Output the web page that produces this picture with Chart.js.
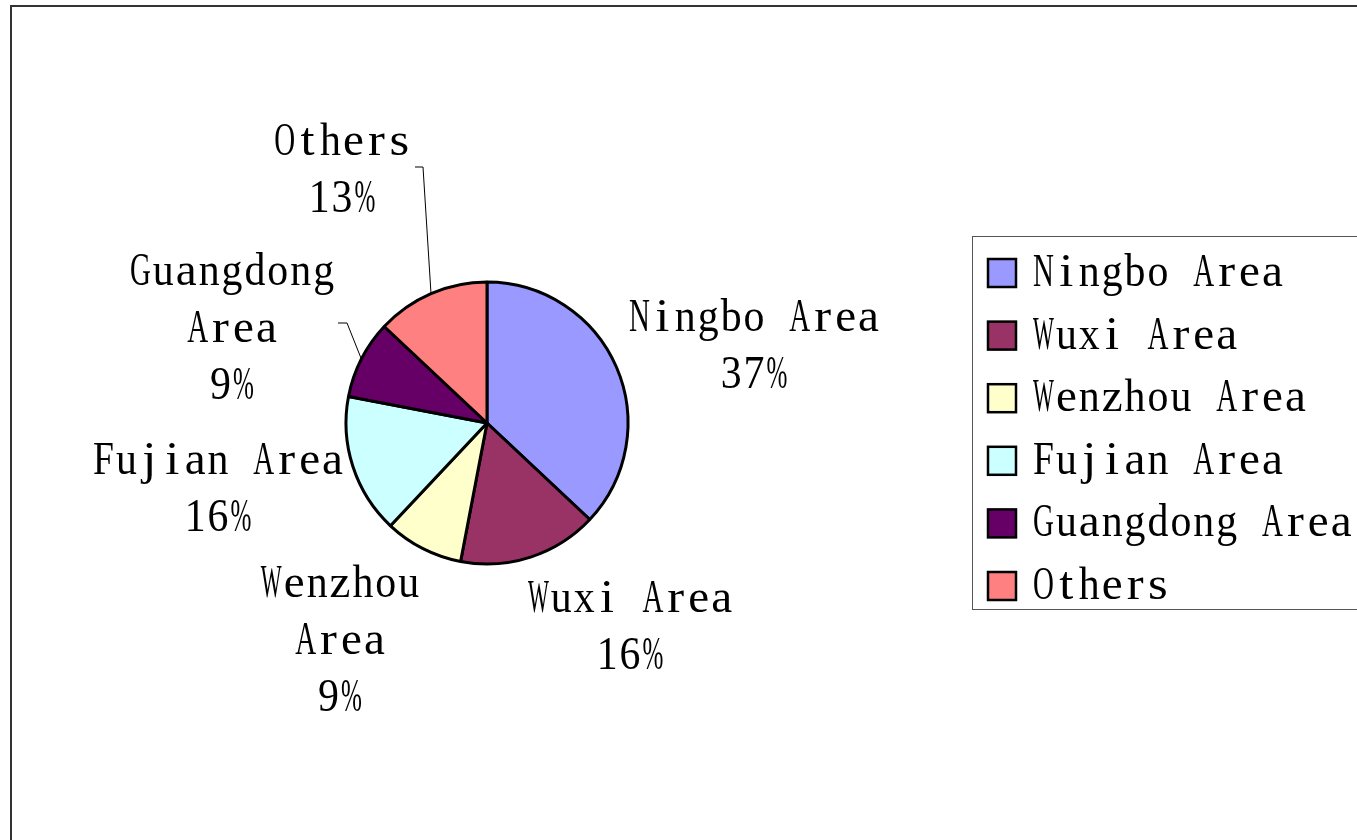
<!DOCTYPE html>
<html>
<head>
<meta charset="utf-8">
<title>Area share pie</title>
<script src="https://cdn.jsdelivr.net/npm/chart.js@4.4.1/dist/chart.umd.min.js"></script>
<style>
  html, body { margin: 0; padding: 0; background: #ffffff; overflow: hidden; }
  canvas { display: block; }
</style>
</head>
<body>
<canvas id="pie" width="1357" height="840"></canvas>
<script>
// ====== datos ======
const categories = ['Ningbo Area', 'Wuxi Area', 'Wenzhou Area', 'Fujian Area', 'Guangdong Area', 'Others'];
const shares = [37, 16, 9, 16, 9, 13];
const colors = ['#9999FF', '#993366', '#FFFFCC', '#CCFFFF', '#660066', '#FF8080'];

// ====== estilo de etiquetas ======
// label block centre, relative to the pie centre
const labelOffsets = [[267, -76], [143, 205], [-147, 219], [-269, 67], [-255, -93], [-145, -252]];
const wrapLabel = [false, false, true, false, true, false];
// leader lines: [elbow, end] relative to pie centre, null = none
const leaders = [null, null, null, null, [[-140, -100], [-149, -100]], [[-64, -256], [-72, -256]]];

const FONT = '46px "Liberation Serif", serif';
const ADV = 22.9;      // fixed advance per char, like the original half-width font
const LINE_H = 57;

// serif glyphs placed in fixed cells (monospaced look)
function texto(ctx, t, x, y, align) {
    const w = t.length * ADV;
    const x0 = align === 'left' ? x : x - w / 2;
    ctx.save();
    ctx.font = FONT;
    ctx.textAlign = 'center';
    ctx.textBaseline = 'middle';
    for (let k = 0; k < t.length; k++) {
        const ch = t[k];
        if (ch === ' ') continue;
        const gw = ctx.measureText(ch).width;
        const sx = Math.min(1.1, (ADV - 2) / gw);
        ctx.save();
        ctx.translate(x0 + (k + 0.5) * ADV, y);
        ctx.scale(sx, 1);
        ctx.fillText(ch, 0, 0);
        ctx.restore();
    }
    ctx.restore();
}

const extras = {
    id: 'extras',
    beforeDraw(chart) {
        const ctx = chart.ctx;
        ctx.save();
        ctx.fillStyle = '#ffffff';
        ctx.fillRect(0, 0, chart.width, chart.height);
        ctx.restore();
    },
    afterDraw(chart) {
        const ctx = chart.ctx;
        const meta = chart.getDatasetMeta(0);
        const total = shares.reduce((a, b) => a + b, 0);
        ctx.save();

        // outer frame
        ctx.strokeStyle = '#333333';
        ctx.lineWidth = 2;
        ctx.strokeRect(11, 6, 1500, 1000);

        ctx.fillStyle = '#000000';

        meta.data.forEach((arc, i) => {
            const p = arc.getProps(['x', 'y', 'startAngle', 'endAngle', 'outerRadius'], true);
            const cx = p.x, cy = p.y;
            const mid = (p.startAngle + p.endAngle) / 2;

            // leader line
            if (leaders[i]) {
                const sx = cx + Math.cos(mid) * p.outerRadius;
                const sy = cy + Math.sin(mid) * p.outerRadius;
                ctx.strokeStyle = '#000000';
                ctx.lineWidth = 1;
                ctx.beginPath();
                ctx.moveTo(sx, sy);
                ctx.lineTo(cx + leaders[i][0][0], cy + leaders[i][0][1]);
                ctx.lineTo(cx + leaders[i][1][0], cy + leaders[i][1][1]);
                ctx.stroke();
            }

            // label text
            const pct = Math.round(shares[i] / total * 100) + '%';
            let lines;
            if (wrapLabel[i]) {
                lines = categories[i].split(' ').concat([pct]);
            } else {
                lines = [categories[i], pct];
            }
            const lx = cx + labelOffsets[i][0];
            const ly = cy + labelOffsets[i][1];
            const top = ly - (lines.length - 1) * LINE_H / 2;
            lines.forEach((t, k) => texto(ctx, t, lx, top + k * LINE_H, 'center'));
        });

        // legend
        ctx.strokeStyle = '#555555';
        ctx.lineWidth = 1;
        ctx.strokeRect(972.5, 236.5, 500, 373);
        categories.forEach((c, i) => {
            const y = 273 + i * 62.6;
            ctx.fillStyle = colors[i];
            ctx.fillRect(988, y - 14, 28, 28);
            ctx.strokeStyle = '#000000';
            ctx.lineWidth = 2.5;
            ctx.strokeRect(988, y - 14, 28, 28);
            ctx.fillStyle = '#000000';
            texto(ctx, c, 1032, y + 1, 'left');
        });

        ctx.restore();
    }
};

new Chart(document.getElementById('pie'), {
    type: 'pie',
    data: {
        labels: categories,
        datasets: [{
            data: shares,
            backgroundColor: colors,
            borderColor: '#000000',
            borderWidth: 3,
            radius: 141
        }]
    },
    options: {
        responsive: false,
        animation: false,
        layout: { padding: { left: 0, right: 383, top: 6, bottom: 0 } },
        plugins: {
            legend: { display: false },
            tooltip: { enabled: false }
        }
    },
    plugins: [extras]
});
</script>
</body>
</html>
